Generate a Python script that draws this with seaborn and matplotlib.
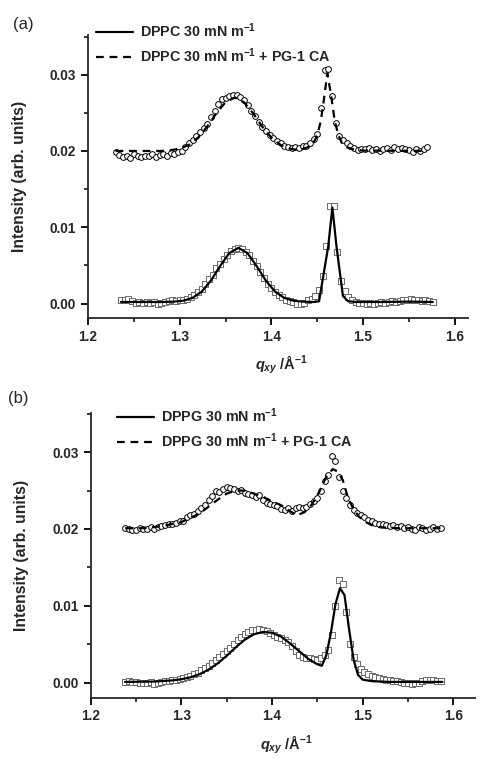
import numpy as np
import pandas as pd
import matplotlib
matplotlib.use("Agg")
import matplotlib.pyplot as plt
import seaborn as sns
from matplotlib.ticker import MultipleLocator, FormatStrFormatter

# ---------------- data (intensities in units of 1e-3) ----------------
# Panel (a) DPPC
qa_lower = [1.236, 1.240, 1.244, 1.248, 1.252, 1.256, 1.260, 1.264, 1.268, 1.272,
            1.276, 1.280, 1.284, 1.288, 1.292, 1.296, 1.300, 1.304, 1.308, 1.312,
            1.316, 1.320, 1.324, 1.328, 1.332, 1.336, 1.340, 1.344, 1.348, 1.352,
            1.356, 1.360, 1.364, 1.368, 1.372, 1.376, 1.380, 1.384, 1.388, 1.392,
            1.396, 1.400, 1.404, 1.408, 1.412, 1.416, 1.420, 1.424, 1.428, 1.432,
            1.436, 1.440, 1.444, 1.448, 1.452, 1.456, 1.460, 1.464, 1.468, 1.472,
            1.476, 1.480, 1.484, 1.488, 1.492, 1.496, 1.500, 1.504, 1.508, 1.512,
            1.516, 1.520, 1.524, 1.528, 1.532, 1.536, 1.540, 1.544, 1.548, 1.552,
            1.556, 1.560, 1.564, 1.568, 1.572, 1.576]
Ia_lower = [0.5, 0.5, 0.6, 0.3, 0.1, 0.2, 0.1, 0.2, 0.1, 0.2,
            0.0, 0.1, 0.2, 0.3, 0.4, 0.3, 0.4, 0.5, 0.6, 0.8,
            1.1, 1.5, 1.9, 2.5, 3.2, 3.8, 4.6, 5.2, 5.8, 6.4,
            6.9, 7.2, 7.3, 7.2, 6.8, 6.3, 5.6, 4.9, 4.1, 3.4,
            2.6, 2.0, 1.5, 1.1, 0.8, 0.5, 0.3, 0.2, 0.0, 0.0,
            0.1, 0.4, 0.6, 1.0, 1.8, 3.6, 7.5, 12.8, 12.8, 6.8,
            3.0, 1.6, 0.8, 0.5, 0.2, 0.1, 0.1, 0.0, 0.1, 0.0,
            0.1, 0.2, 0.1, 0.2, 0.3, 0.2, 0.3, 0.4, 0.5, 0.6,
            0.4, 0.4, 0.3, 0.4, 0.3, 0.2]
qa_upper = [1.230, 1.234, 1.238, 1.242, 1.246, 1.250, 1.254, 1.258, 1.262, 1.266,
            1.270, 1.274, 1.278, 1.282, 1.286, 1.290, 1.294, 1.298, 1.302, 1.306,
            1.310, 1.314, 1.318, 1.322, 1.326, 1.330, 1.334, 1.338, 1.342, 1.346,
            1.350, 1.354, 1.358, 1.362, 1.366, 1.370, 1.374, 1.378, 1.382, 1.386,
            1.390, 1.394, 1.398, 1.402, 1.406, 1.410, 1.414, 1.418, 1.422, 1.426,
            1.430, 1.434, 1.438, 1.442, 1.446, 1.450, 1.454, 1.458, 1.462, 1.466,
            1.470, 1.474, 1.478, 1.482, 1.486, 1.490, 1.494, 1.498, 1.502, 1.506,
            1.510, 1.514, 1.518, 1.522, 1.526, 1.530, 1.534, 1.538, 1.542, 1.546,
            1.550, 1.554, 1.558, 1.562, 1.566, 1.570]
Ia_upper = [19.8, 19.5, 19.2, 19.4, 19.1, 19.6, 19.3, 19.2, 19.4, 19.3,
            19.6, 19.2, 19.5, 19.6, 19.4, 19.7, 19.6, 19.9, 20.0, 20.5,
            21.0, 21.4, 22.0, 22.5, 23.0, 23.6, 24.4, 25.3, 26.1, 26.8,
            27.0, 27.2, 27.3, 27.4, 27.1, 26.7, 26.0, 25.2, 24.6, 23.8,
            23.2, 22.6, 22.1, 21.7, 21.3, 21.1, 20.7, 20.5, 20.4, 20.5,
            20.4, 20.6, 20.7, 21.0, 21.6, 22.2, 25.6, 30.6, 30.8, 27.2,
            23.7, 22.0, 21.5, 21.0, 20.6, 20.4, 20.1, 20.3, 20.2, 20.4,
            20.1, 20.2, 20.0, 20.2, 20.4, 20.1, 20.5, 20.2, 20.4, 20.3,
            20.1, 19.9, 20.2, 20.0, 20.2, 20.5]
qa_fit_lower = [1.236, 1.280, 1.294, 1.304, 1.314, 1.324, 1.334, 1.344, 1.354, 1.364,
                1.374, 1.384, 1.394, 1.404, 1.414, 1.424, 1.434, 1.446, 1.452, 1.462,
                1.4665, 1.471, 1.478, 1.4835, 1.492, 1.520, 1.550, 1.576]
Ia_fit_lower = [0.2, 0.2, 0.25, 0.37, 0.74, 1.56, 3.0, 4.9, 6.6, 7.3,
                6.6, 4.9, 3.0, 1.56, 0.74, 0.37, 0.25, 0.2, 0.3, 7.5,
                12.6, 7.5, 1.0, 0.3, 0.2, 0.2, 0.25, 0.2]
qa_fit_upper = [1.230, 1.280, 1.290, 1.300, 1.310, 1.320, 1.330, 1.340, 1.350, 1.360,
                1.370, 1.380, 1.390, 1.400, 1.410, 1.420, 1.430, 1.440, 1.446, 1.450,
                1.454, 1.457, 1.461, 1.465, 1.469, 1.473, 1.477, 1.482, 1.490, 1.500,
                1.570]
Ia_fit_upper = [20.0, 20.0, 20.1, 20.3, 20.8, 21.75, 23.2, 24.95, 26.4, 27.0,
                26.4, 24.95, 23.2, 21.75, 20.8, 20.3, 20.1, 20.5, 21.1, 22.0,
                24.0, 26.5, 30.2, 27.4, 24.0, 22.1, 21.0, 20.5, 20.2, 20.05,
                20.0]

# Panel (b) DPPG
qb = [1.238, 1.242, 1.246, 1.250, 1.254, 1.258, 1.262, 1.266, 1.270, 1.274,
      1.278, 1.282, 1.286, 1.290, 1.294, 1.298, 1.302, 1.306, 1.310, 1.314,
      1.318, 1.322, 1.326, 1.330, 1.334, 1.338, 1.342, 1.346, 1.350, 1.354,
      1.358, 1.362, 1.366, 1.370, 1.374, 1.378, 1.382, 1.386, 1.390, 1.394,
      1.398, 1.402, 1.406, 1.410, 1.414, 1.418, 1.422, 1.426, 1.430, 1.434,
      1.438, 1.442, 1.446, 1.450, 1.454, 1.458, 1.462, 1.466, 1.470, 1.474,
      1.478, 1.482, 1.486, 1.490, 1.494, 1.498, 1.502, 1.506, 1.510, 1.514,
      1.518, 1.522, 1.526, 1.530, 1.534, 1.538, 1.542, 1.546, 1.550, 1.554,
      1.558, 1.562, 1.566, 1.570, 1.574, 1.578, 1.582, 1.586]
Ib_upper = [20.1, 20.0, 19.9, 19.9, 20.1, 20.0, 20.0, 20.2, 20.0, 20.3,
            20.4, 20.5, 20.6, 20.7, 20.8, 21.0, 21.1, 21.5, 21.8, 22.0,
            22.3, 22.7, 23.1, 23.8, 24.3, 24.9, 24.8, 25.2, 25.5, 25.3,
            25.2, 25.0, 25.1, 24.7, 24.6, 24.4, 24.2, 24.4, 23.8, 23.4,
            23.2, 23.1, 23.0, 22.6, 22.5, 22.7, 22.4, 22.7, 22.8, 22.7,
            22.9, 23.2, 23.6, 24.0, 25.0, 26.2, 27.0, 29.5, 28.8, 26.8,
            25.0, 24.0, 23.1, 22.5, 22.1, 21.8, 21.5, 21.2, 21.0, 20.8,
            20.7, 20.6, 20.5, 20.4, 20.5, 20.3, 20.4, 20.1, 20.2, 20.0,
            19.9, 20.2, 20.1, 19.9, 20.0, 20.2, 20.0, 20.1]
Ib_lower = [0.1, 0.2, 0.1, 0.1, 0.0, -0.1, 0.0, 0.1, -0.2, 0.0,
            0.1, 0.2, 0.2, 0.3, 0.4, 0.5, 0.6, 0.7, 0.9, 1.1,
            1.3, 1.6, 1.9, 2.2, 2.5, 2.9, 3.3, 3.7, 4.1, 4.5,
            5.0, 5.5, 6.0, 6.4, 6.6, 6.8, 6.9, 7.0, 6.9, 6.7,
            6.5, 6.2, 6.0, 5.8, 5.6, 5.3, 4.8, 4.1, 3.6, 3.4,
            3.2, 3.2, 3.1, 3.0, 3.2, 3.6, 4.3, 6.2, 10.0, 13.4,
            12.9, 9.2, 5.0, 3.3, 2.4, 1.8, 1.4, 1.1, 0.9, 0.7,
            0.6, 0.5, 0.4, 0.3, 0.2, 0.2, 0.1, 0.0, -0.1, -0.2,
            -0.1, 0.0, 0.2, 0.3, 0.4, 0.3, 0.2, 0.2]
qb_fit_lower = [1.238, 1.270, 1.290, 1.300, 1.310, 1.320, 1.330, 1.340, 1.350, 1.360,
                1.370, 1.380, 1.390, 1.400, 1.410, 1.420, 1.430, 1.440, 1.450, 1.455,
                1.460, 1.465, 1.470, 1.475, 1.480, 1.485, 1.490, 1.495, 1.500, 1.510,
                1.530, 1.588]
Ib_fit_lower = [0.1, 0.15, 0.3, 0.45, 0.7, 1.1, 1.7, 2.5, 3.5, 4.6,
                5.6, 6.3, 6.6, 6.5, 6.0, 5.1, 4.1, 3.1, 2.4, 2.2,
                3.6, 6.5, 10.2, 12.3, 11.4, 7.0, 3.0, 1.0, 0.4, 0.2,
                0.1, 0.1]
qb_fit_upper = [1.238, 1.260, 1.280, 1.300, 1.320, 1.340, 1.350, 1.360, 1.370, 1.380,
                1.390, 1.400, 1.410, 1.420, 1.428, 1.436, 1.444, 1.452, 1.460, 1.467,
                1.472, 1.478, 1.484, 1.490, 1.496, 1.502, 1.510, 1.520, 1.540, 1.588]
Ib_fit_upper = [20.1, 20.1, 20.4, 20.9, 22.0, 23.8, 24.6, 25.0, 25.0, 24.6,
                24.2, 23.6, 23.1, 22.3, 21.8, 22.2, 23.2, 24.8, 26.8, 27.8,
                27.5, 26.4, 24.0, 22.6, 21.6, 21.0, 20.5, 20.2, 20.1, 20.1]

legend_a = ["DPPC 30 mN m$^{-1}$", "DPPC 30 mN m$^{-1}$ + PG-1 CA"]
legend_b = ["DPPG 30 mN m$^{-1}$", "DPPG 30 mN m$^{-1}$ + PG-1 CA"]

# ---------------- style ----------------
sns.set_style("ticks")
plt.rcParams["font.family"] = ["Liberation Sans", "DejaVu Sans"]
plt.rcParams["font.weight"] = "bold"
plt.rcParams["mathtext.fontset"] = "custom"
plt.rcParams["mathtext.rm"] = "Liberation Sans:bold"
plt.rcParams["mathtext.it"] = "Liberation Sans:bold:italic"
plt.rcParams["mathtext.bf"] = "Liberation Sans:bold"
plt.rcParams["axes.linewidth"] = 1.3

fig = plt.figure(figsize=(4.83, 7.65), dpi=100)
ax_a = fig.add_axes([0.1822, 0.5843, 0.7867, 0.3699])
ax_b = fig.add_axes([0.1878, 0.0880, 0.7957, 0.3722])

dash = (0, (3.5, 2.6))


def draw_panel(ax, q_low, I_low, q_up, I_up, qf_low, If_low, qf_up, If_up):
    df_low = pd.DataFrame({"q": q_low, "I": np.array(I_low) / 1000})
    df_up = pd.DataFrame({"q": q_up, "I": np.array(I_up) / 1000})
    df_fl = pd.DataFrame({"q": qf_low, "I": np.array(If_low) / 1000})
    df_fu = pd.DataFrame({"q": qf_up, "I": np.array(If_up) / 1000})
    sns.scatterplot(data=df_low, x="q", y="I", ax=ax, marker="s", s=14,
                    facecolor="white", edgecolor="#6a6a6a", linewidth=0.7, zorder=2)
    sns.scatterplot(data=df_up, x="q", y="I", ax=ax, marker="o", s=17,
                    facecolor="white", edgecolor="black", linewidth=0.7, zorder=2)
    sns.lineplot(data=df_fl, x="q", y="I", ax=ax, color="black", lw=1.6,
                 estimator=None, sort=False, zorder=3)
    sns.lineplot(data=df_fu, x="q", y="I", ax=ax, color="black", lw=1.6,
                 estimator=None, sort=False, zorder=3)
    ax.lines[-1].set_linestyle(dash)
    h1, h2 = ax.lines[-2], ax.lines[-1]
    sns.despine(ax=ax)
    ax.xaxis.set_major_locator(MultipleLocator(0.1))
    ax.xaxis.set_minor_locator(MultipleLocator(0.05))
    ax.yaxis.set_major_locator(MultipleLocator(0.01))
    ax.yaxis.set_minor_locator(MultipleLocator(0.005))
    ax.xaxis.set_major_formatter(FormatStrFormatter("%.1f"))
    ax.yaxis.set_major_formatter(FormatStrFormatter("%.2f"))
    ax.tick_params(which="major", direction="out", length=5, width=1.3,
                   labelsize=9.8, color="black")
    ax.tick_params(which="minor", direction="out", length=3, width=1.1, color="black")
    for t in ax.get_xticklabels() + ax.get_yticklabels():
        t.set_fontweight("bold")
    ax.set_xlabel(r"$q_{xy}$ /Å$^{-1}$", fontsize=10.5, fontweight="bold")
    ax.set_ylabel("Intensity (arb. units)", fontsize=11.3, fontweight="bold")
    ax.yaxis.set_label_coords(-0.16, 0.5)
    ax.xaxis.set_label_coords(0.51, -0.125)
    return h1, h2


leg_kw = dict(loc="upper left", bbox_transform=fig.transFigure, frameon=False,
              borderpad=0, borderaxespad=0, handlelength=2.6, handletextpad=0.5,
              labelspacing=0.45, prop={"weight": "bold", "size": 10.3})

h1, h2 = draw_panel(ax_a, qa_lower, Ia_lower, qa_upper, Ia_upper,
                    qa_fit_lower, Ia_fit_lower, qa_fit_upper, Ia_fit_upper)
ax_a.set_xlim(1.2, 1.6144)
ax_a.set_ylim(-0.0019, 0.0352)
ax_a.legend([h1, h2], legend_a, bbox_to_anchor=(0.198, 0.972), **leg_kw)

g1, g2 = draw_panel(ax_b, qb, Ib_lower, qb, Ib_upper,
                    qb_fit_lower, Ib_fit_lower, qb_fit_upper, Ib_fit_upper)
ax_b.set_xlim(1.2, 1.624)
ax_b.set_ylim(-0.00195, 0.0351)
ax_b.legend([g1, g2], legend_b, bbox_to_anchor=(0.242, 0.469), **leg_kw)

fig.text(0.027, 1 - 25 / 765, "(a)", fontsize=12, fontweight="normal", va="center")
fig.text(0.016, 1 - 398 / 765, "(b)", fontsize=12, fontweight="normal", va="center")

fig.savefig("out.png", dpi=100)
